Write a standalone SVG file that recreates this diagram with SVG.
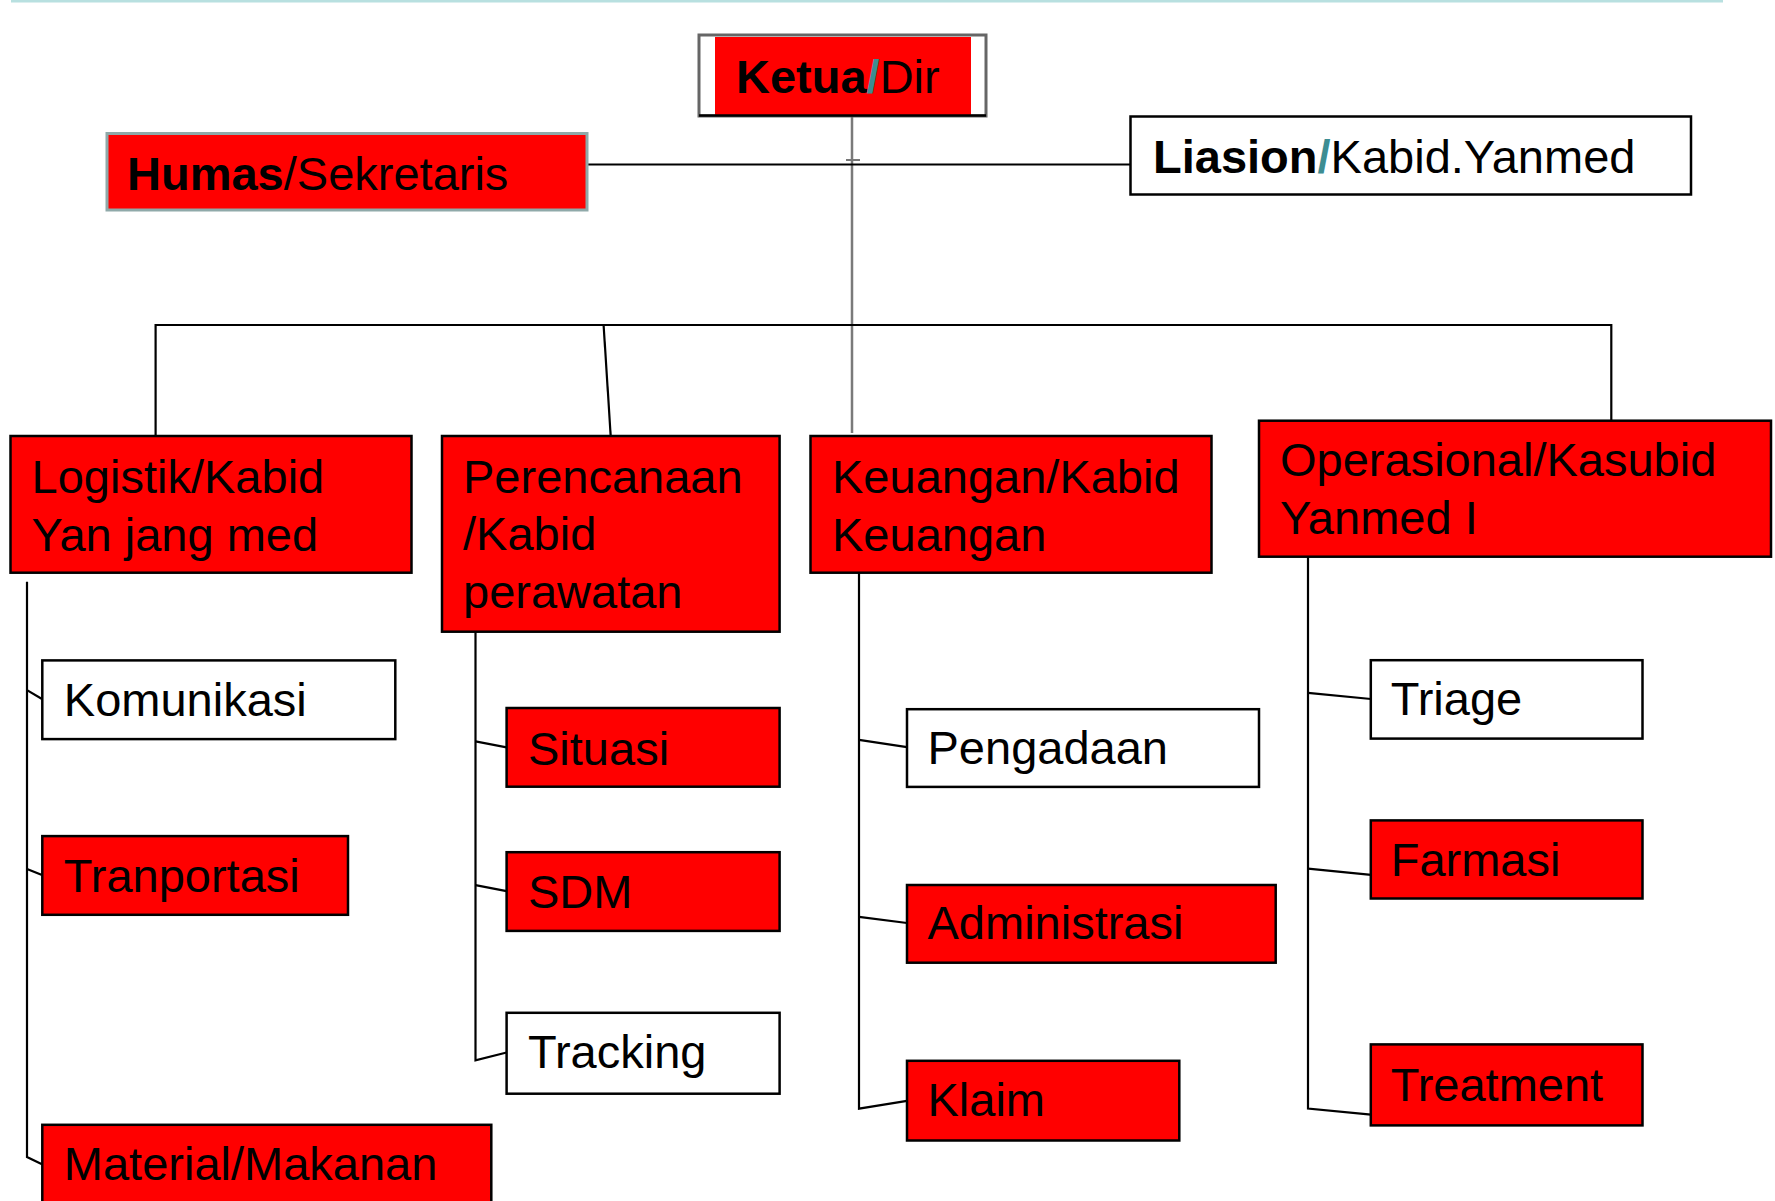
<svg xmlns="http://www.w3.org/2000/svg" width="1775" height="1201" viewBox="0 0 1775 1201">
<style>
.r{fill:#ff0000;stroke:#000;stroke-width:2.5}
.w{fill:#fff;stroke:#000;stroke-width:2.5}
.t{font-family:"Liberation Sans",Arial,sans-serif;font-size:47px;fill:#000}
.b{font-weight:bold}
.s{fill:#3d8d92;font-weight:bold}
.c{stroke:#000;stroke-width:2.2;fill:none}
</style>
<rect width="1775" height="1201" fill="#fff"/>
<line x1="11" y1="1" x2="1723" y2="1" stroke="#b8e0e0" stroke-width="3"/>
<g id="connectors">
<line x1="852" y1="116" x2="852" y2="433" stroke="#7a7a7a" stroke-width="2.5"/>
<line x1="587" y1="164.5" x2="1130" y2="164.5" class="c"/>
<line x1="846" y1="160" x2="860" y2="160" stroke="#777" stroke-width="2"/>
<polyline points="155.6,436 155.6,325 1611.3,325 1611.3,420.7" class="c"/>
<line x1="603.6" y1="325" x2="610.7" y2="436" class="c"/>
<polyline points="27,581.7 27,1157 42,1164.2" class="c"/>
<line x1="27" y1="690.1" x2="42" y2="699" class="c"/>
<line x1="27" y1="869" x2="42" y2="875.1" class="c"/>
<polyline points="475.5,631.7 475.5,1060.4 506.6,1052.5" class="c"/>
<line x1="475.5" y1="741.3" x2="506.6" y2="747.3" class="c"/>
<line x1="475.5" y1="885.1" x2="506.6" y2="891.2" class="c"/>
<polyline points="859,565 859,1108.6 907,1100.8" class="c"/>
<line x1="859" y1="739.9" x2="907" y2="747.2" class="c"/>
<line x1="859" y1="916.9" x2="907" y2="923" class="c"/>
<polyline points="1308,549 1308,1108.6 1371,1114.7" class="c"/>
<line x1="1308" y1="692.9" x2="1371" y2="699" class="c"/>
<line x1="1308" y1="868.6" x2="1371" y2="874.8" class="c"/>
</g>
<g id="ketua">
<rect x="699" y="35" width="287" height="81" fill="#fff" stroke="#666" stroke-width="3"/>
<rect x="715" y="37" width="256" height="78" fill="#ff0000"/>
<line x1="699" y1="115.5" x2="986" y2="115.5" stroke="#000" stroke-width="2.5"/>
<text x="736" y="93" class="t"><tspan class="b">Ketua</tspan><tspan class="s">/</tspan>Dir</text>
</g>
<g id="humas">
<rect x="107" y="133.5" width="480" height="76.5" fill="#ff0000" stroke="#8fa9a9" stroke-width="3"/>
<text x="127" y="189.5" class="t"><tspan class="b">Humas</tspan>/Sekretaris</text>
</g>
<g id="liasion">
<rect x="1130.5" y="116.5" width="560.5" height="78" class="w"/>
<text x="1153" y="172.7" class="t"><tspan class="b">Liasion</tspan><tspan class="s">/</tspan>Kabid.Yanmed</text>
</g>
<g id="logistik">
<rect x="10.5" y="436" width="401" height="136.7" class="r"/>
<text class="t"><tspan x="31.6" y="492.7">Logistik/Kabid</tspan><tspan x="31.6" y="550.7">Yan jang med</tspan></text>
</g>
<g id="perencanaan">
<rect x="442" y="436" width="337.6" height="195.7" class="r"/>
<text class="t"><tspan x="463" y="492.7">Perencanaan</tspan><tspan x="463" y="550.3">/Kabid</tspan><tspan x="463" y="608.3">perawatan</tspan></text>
</g>
<g id="keuangan">
<rect x="810.5" y="436" width="401" height="136.7" class="r"/>
<text class="t"><tspan x="832" y="492.7">Keuangan/Kabid</tspan><tspan x="832" y="550.7">Keuangan</tspan></text>
</g>
<g id="operasional">
<rect x="1259" y="420.7" width="512" height="136" class="r"/>
<text class="t"><tspan x="1280" y="476">Operasional/Kasubid</tspan><tspan x="1280" y="534.3">Yanmed I</tspan></text>
</g>
<g id="komunikasi">
<rect x="42.3" y="660.4" width="353" height="78.7" class="w"/>
<text x="63.8" y="716.2" class="t">Komunikasi</text>
</g>
<g id="tranportasi">
<rect x="42.3" y="836.1" width="305.7" height="78.7" class="r"/>
<text x="63.8" y="892.2" class="t">Tranportasi</text>
</g>
<g id="material">
<rect x="42.3" y="1124.8" width="449" height="90" class="r"/>
<text x="63.8" y="1180.3" class="t">Material/Makanan</text>
</g>
<g id="situasi">
<rect x="506.6" y="708" width="273" height="78.7" class="r"/>
<text x="528" y="764.5" class="t">Situasi</text>
</g>
<g id="sdm">
<rect x="506.6" y="852.2" width="273" height="78.7" class="r"/>
<text x="528" y="907.6" class="t">SDM</text>
</g>
<g id="tracking">
<rect x="506.6" y="1012.8" width="273" height="80.9" class="w"/>
<text x="528" y="1067.6" class="t">Tracking</text>
</g>
<g id="pengadaan">
<rect x="907" y="709.2" width="352" height="77.7" class="w"/>
<text x="927.5" y="763.6" class="t">Pengadaan</text>
</g>
<g id="administrasi">
<rect x="907" y="885" width="368.7" height="77.7" class="r"/>
<text x="927.5" y="939.4" class="t">Administrasi</text>
</g>
<g id="klaim">
<rect x="907" y="1060.8" width="272.3" height="79.7" class="r"/>
<text x="927.5" y="1116" class="t">Klaim</text>
</g>
<g id="triage">
<rect x="1370.8" y="660.2" width="271.7" height="78.4" class="w"/>
<text x="1390.7" y="715.3" class="t">Triage</text>
</g>
<g id="farmasi">
<rect x="1370.8" y="820.4" width="271.7" height="78.1" class="r"/>
<text x="1390.7" y="876" class="t">Farmasi</text>
</g>
<g id="treatment">
<rect x="1370.8" y="1044.4" width="271.7" height="81" class="r"/>
<text x="1390.7" y="1100.8" class="t">Treatment</text>
</g>
</svg>
